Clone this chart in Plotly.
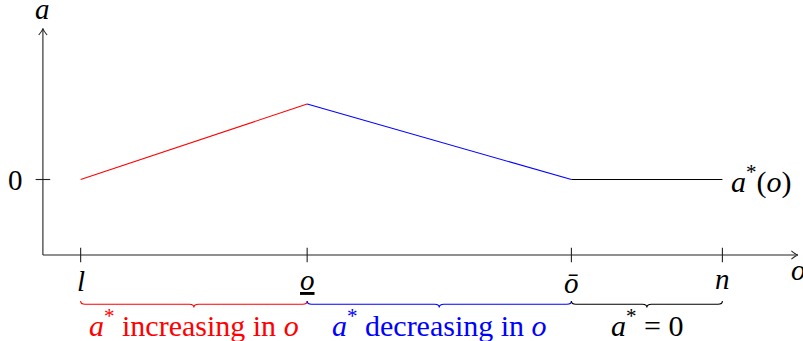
import plotly.graph_objects as go

# ---------------- data ----------------
o_ticks = [0.5, 3.5, 7.0, 9.0]                      # l, o_, o-bar, n
tick_labels = ["<i>l</i>", "<u><i>o</i></u>", "<i>ō</i>", "<i>n</i>"]
tick_label_py = [281, 280, 283, 279]                 # label centre rows (px)
a_star = [1.0, 2.0, 1.0, 1.0]                        # a*(o) at the ticks
seg_colors = ["#ff0000", "#0000ff", "#000000"]
region_labels = [
    "<i>a</i><sup>*</sup> increasing in <i>o</i>",
    "<i>a</i><sup>*</sup> decreasing in <i>o</i>",
    "<i>a</i><sup>*</sup> = 0",
]
y_tick_val = 1.0
y_tick_label = "0"
x_axis_max = 10.0
y_axis_max = 3.0

# ---------------- geometry helpers ----------------
PX = 75.5                      # pixels per data unit
W, H = 803, 341
x0_px, y0_px = 42.9, 255.0
x_range = [-x0_px / PX, (W - x0_px) / PX]
y_range = [(y0_px - H) / PX, y0_px / PX]

def u(px):
    return px / PX

def ypx(py):
    return (y0_px - py) / PX

def xpx(px):
    return (px - x0_px) / PX

FONT = "Liberation Serif, DejaVu Serif, serif"
FS = 29

fig = go.Figure()

# a*(o) piecewise line
for i, c in enumerate(seg_colors):
    fig.add_trace(go.Scatter(
        x=o_ticks[i:i + 2], y=a_star[i:i + 2], mode="lines",
        line=dict(color=c, width=1.1), hoverinfo="skip", showlegend=False))

shapes = []
axis_line = dict(color="#222222", width=1.1)
shapes.append(dict(type="line", xref="x", yref="y", x0=0, y0=0, x1=x_axis_max, y1=0, line=axis_line))
shapes.append(dict(type="line", xref="x", yref="y", x0=0, y0=0, x1=0, y1=y_axis_max, line=axis_line))

# arrowheads (TikZ "to" style)
L, w = u(6.5), u(4.2)
def arrow_x(tx, ty):
    return (f"M {tx - L},{ty + w} Q {tx - 0.3 * L},{ty + 0.1 * w} {tx},{ty} "
            f"Q {tx - 0.3 * L},{ty - 0.1 * w} {tx - L},{ty - w}")
def arrow_y(tx, ty):
    return (f"M {tx - w},{ty - L} Q {tx - 0.1 * w},{ty - 0.3 * L} {tx},{ty} "
            f"Q {tx + 0.1 * w},{ty - 0.3 * L} {tx + w},{ty - L}")
shapes.append(dict(type="path", xref="x", yref="y", path=arrow_x(x_axis_max, 0), line=axis_line))
shapes.append(dict(type="path", xref="x", yref="y", path=arrow_y(0, y_axis_max), line=axis_line))

# ticks
tk = u(7.3)
for xv in o_ticks:
    shapes.append(dict(type="line", xref="x", yref="y", x0=xv, x1=xv, y0=-tk, y1=tk, line=axis_line))
shapes.append(dict(type="line", xref="x", yref="y", x0=-tk, x1=tk, y0=y_tick_val, y1=y_tick_val, line=axis_line))

# braces
yb_top = ypx(301.0)
yb_mid = ypx(304.3)
yb_tip = ypx(307.5)
d = u(4.5)
for i, c in enumerate(seg_colors):
    xa, xb = o_ticks[i], o_ticks[i + 1]
    xm = (xa + xb) / 2
    path = (f"M {xa},{yb_top} Q {xa},{yb_mid} {xa + d},{yb_mid} "
            f"L {xm - d},{yb_mid} Q {xm},{yb_mid} {xm},{yb_tip} "
            f"Q {xm},{yb_mid} {xm + d},{yb_mid} "
            f"L {xb - d},{yb_mid} Q {xb},{yb_mid} {xb},{yb_top}")
    shapes.append(dict(type="path", xref="x", yref="y", path=path, line=dict(color=c, width=1.1)))

annotations = []
def txt(x, y, text, xanchor="center", color="black", size=FS):
    annotations.append(dict(x=x, y=y, xref="x", yref="y", text=text, showarrow=False,
                            xanchor=xanchor, yanchor="middle",
                            font=dict(family=FONT, size=size, color=color)))

for xv, lab, py in zip(o_ticks, tick_labels, tick_label_py):
    txt(xv, ypx(py), lab)
for i, (lab, c) in enumerate(zip(region_labels, seg_colors)):
    txt((o_ticks[i] + o_ticks[i + 1]) / 2, ypx(323), lab, color=c, size=30)
txt(xpx(25), y_tick_val, y_tick_label, xanchor="right")
txt(0, ypx(9), "<i>a</i>")
txt(xpx(789), ypx(269.5), "<i>o</i>", xanchor="left")
txt(o_ticks[-1] + u(7), a_star[-1], "<i>a</i><sup>*</sup>(<i>o</i>)", xanchor="left", size=30)

fig.update_layout(
    width=W, height=H, margin=dict(l=0, r=0, t=0, b=0),
    paper_bgcolor="white", plot_bgcolor="white", showlegend=False,
    xaxis=dict(range=x_range, visible=False, fixedrange=True),
    yaxis=dict(range=y_range, visible=False, fixedrange=True),
    shapes=shapes, annotations=annotations,
)
fig.write_html("out.html", config={"displayModeBar": False},
               post_script="document.body.style.margin='0';document.body.style.overflow='hidden';")
